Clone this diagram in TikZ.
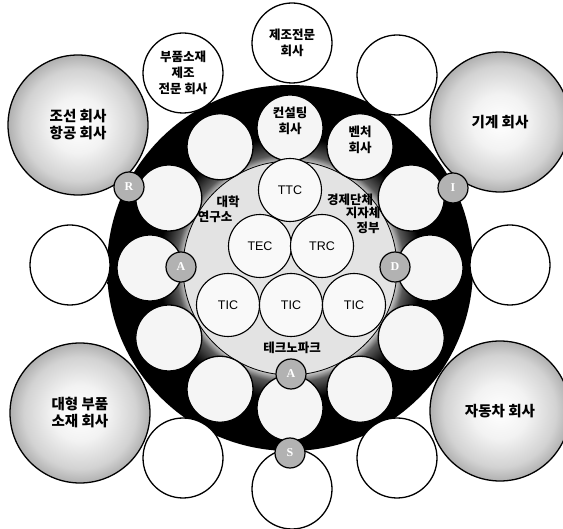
\documentclass[tikz,border=0pt]{standalone}
\usepackage{fontspec}
\usetikzlibrary{calc}
\setmainfont{Liberation Sans}
\newfontfamily\kr{Noto Sans CJK KR}
\newfontfamily\serifl{Liberation Serif}
\pgfdeclareradialshading{darkdisk}{\pgfpoint{0bp}{0bp}}{color(0bp)=(gray!45); color(14.6bp)=(gray!45); color(15.6bp)=(black!65); color(18bp)=(black); color(50bp)=(black)}
\pgfdeclareradialshading{corner}{\pgfpoint{0bp}{0bp}}{color(0bp)=(white); color(10bp)=(gray!10); color(20bp)=(gray!35); color(25bp)=(gray!62); color(50bp)=(gray!62)}
\tikzset{
 ringc/.style={circle, draw=black, line width=1.3pt, fill=gray!8, minimum size=66pt, inner sep=0pt},
 techc/.style={circle, draw=black, line width=1.1pt, fill=gray!5, minimum size=63pt, inner sep=0pt, font=\fontsize{12.5}{13}\selectfont},
 outc/.style={circle, draw=black, line width=1.3pt, fill=white, minimum size=80pt, inner sep=0pt, font=\kr\bfseries\fontsize{12.5}{16}\selectfont, align=center},
 cornc/.style={circle, draw=black, line width=1.3pt, shade, shading=corner, minimum size=140pt, inner sep=0pt, font=\kr\bfseries\fontsize{14.5}{17}\selectfont, align=center},
 letc/.style={circle, draw=black, line width=1.2pt, fill=gray!60, minimum size=30pt, inner sep=0pt, font=\serifl\bfseries\fontsize{12}{12}\selectfont, text=white},
 krs/.style={font=\kr\bfseries\fontsize{12.5}{16}\selectfont, align=center, inner sep=0pt},
}
\begin{document}
\begin{tikzpicture}[x=1pt,y=-1pt]
\useasboundingbox (0,0) rectangle (563,529);
\coordinate (C) at (290,268);
% corner companies
\node[cornc] (k1) at (78,125) {조선 회사\\항공 회사};
\node[cornc] (k2) at (500,122) {기계 회사};
\node[cornc] (k3) at (80,413) {대형 부품\\소재 회사};
\node[cornc] (k4) at (500,411) {자동차 회사};
% dark disk
\node[circle, minimum size=366pt, inner sep=0pt, shade, shading=darkdisk] (dark) at (C) {};
% outer white circles
\node[outc] (o1) at (183,73) {부품소재\\제조\\전문 회사};
\node[outc] (o2) at (292,43) {제조전문\\회사};
\node[outc] (o3) at (397,75) {};
\node[outc] (o4) at (70,265) {};
\node[outc] (o5) at (510,265) {};
\node[outc] (o6) at (183,458) {};
\node[outc] (o7) at (292,489) {};
\node[outc] (o8) at (397,458) {};
% inner disk
\node[circle, draw=black, line width=0.8pt, fill=gray!22, minimum size=214pt, inner sep=0pt] (inner) at (C) {};
% ring circles
\foreach \a in {0,30,...,330}{
  \node[ringc] (r\a) at ($(C)+(\a:140)$) {};
}
\node[krs] (tcon) at ([yshift=7pt]r270) {컨설팅\\회사};
\node[krs] (tven) at ([yshift=7pt]r300) {벤처\\회사};
% tech circles
\node[techc] (ttc) at (290,190) {TTC};
\node[techc] (tec) at (260,246) {TEC};
\node[techc] (trc) at (322,246) {TRC};
\node[techc] (tic1) at (228,305) {TIC};
\node[techc] (tic2) at (291,305) {TIC};
\node[techc] (tic3) at (354,305) {TIC};
% inner labels
\node[krs] (l1) at (228,202) {대학};
\node[krs] (l2) at (215,217) {연구소};
\node[krs] (l3) at (350,200) {경제단체};
\node[krs] (l4) at (363,213) {지자체};
\node[krs] (l5) at (368,228) {정부};
\node[krs] (l6) at (292,348) {테크노파크};
% letter circles
\node[letc] (cR) at (129,187) {R};
\node[letc] (cI) at (453,188) {I};
\node[letc] (cA1) at (181,267) {A};
\node[letc] (cD) at (395,267) {D};
\node[letc] (cA2) at (291,374) {A};
\node[letc] (cS) at (290,453) {S};
\end{tikzpicture}
\end{document}
